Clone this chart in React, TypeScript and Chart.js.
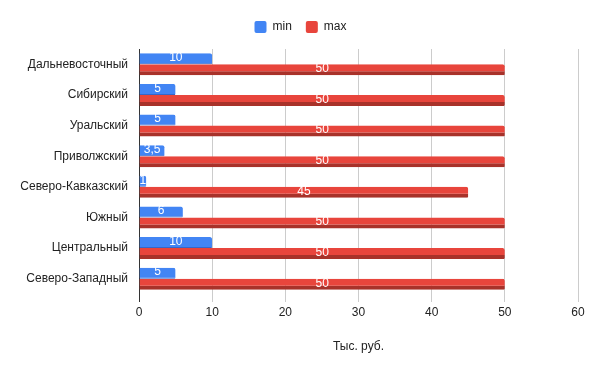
import React, { useEffect, useRef } from "react";
import { Chart, registerables } from "chart.js";

Chart.register(...registerables);

const categories = [
  "Дальневосточный",
  "Сибирский",
  "Уральский",
  "Приволжский",
  "Северо-Кавказский",
  "Южный",
  "Центральный",
  "Северо-Западный",
];
const minValues = [10, 5, 5, 3.5, 1, 6, 10, 5];
const maxValues = [50, 50, 50, 50, 45, 50, 50, 50];
const xTicks = [0, 10, 20, 30, 40, 50, 60];
const xTitle = "Тыс. руб.";

const FONT = "'Liberation Sans', Arial, sans-serif";

const valueLabels = {
  id: "valueLabels",
  afterDatasetsDraw(chart: any) {
    const ctx = chart.ctx;
    ctx.save();
    ctx.font = `12px ${FONT}`;
    ctx.fillStyle = "#ffffff";
    ctx.textAlign = "center";
    ctx.textBaseline = "middle";
    chart.data.datasets.forEach((ds: any, di: number) => {
      const meta = chart.getDatasetMeta(di);
      meta.data.forEach((el: any, i: number) => {
        const v = ds.data[i];
        const cx = (el.base + el.x) / 2;
        ctx.fillText(String(v).replace(".", ","), cx, el.y - 1);
      });
    });
    ctx.restore();
  },
};

const legendFix = {
  id: "legendFix",
  beforeUpdate(chart: any) {
    const lg = chart.legend;
    if (lg && !lg.__patched) {
      const f = lg.fit.bind(lg);
      lg.fit = function () {
        f();
        this.height += 6;
      };
      lg.__patched = true;
    }
  },
  afterLayout(chart: any) {
    const lg = chart.legend;
    if (lg) {
      lg.right = chart.width;
      lg.width = lg.right - lg.left;
    }
  },
};

export default function App() {
  const ref = useRef<HTMLCanvasElement>(null);
  useEffect(() => {
    if (!ref.current) return;
    const chart = new Chart(ref.current, {
      type: "bar",
      data: {
        labels: categories,
        datasets: [
          {
            label: "min",
            data: minValues,
            backgroundColor: "#4285F4",
            borderColor: "#3567c9",
            borderWidth: { top: 0, left: 0, right: 0, bottom: 1 },
            borderSkipped: "left",
            borderRadius: { topRight: 2, bottomRight: 1, topLeft: 0, bottomLeft: 0 },
          },
          {
            label: "max",
            data: maxValues,
            backgroundColor: "#E8453C",
            borderColor: "#a8322a",
            borderWidth: { top: 0, left: 0, right: 0, bottom: 4 },
            borderSkipped: "left",
            borderRadius: { topRight: 2, bottomRight: 1, topLeft: 0, bottomLeft: 0 },
          },
        ],
      },
      options: {
        indexAxis: "y",
        animation: false,
        responsive: true,
        maintainAspectRatio: false,
        datasets: {
          bar: { categoryPercentage: 0.72, barPercentage: 1 },
        },
        layout: { padding: { top: 7, right: 23, bottom: 13, left: 0 } },
        plugins: {
          tooltip: { enabled: false },
          legend: {
            position: "top",
            labels: {
              boxWidth: 12,
              boxHeight: 12,
              padding: 14,
              useBorderRadius: true,
              borderRadius: 2,
              color: "#222",
              font: { family: FONT, size: 12 },
              generateLabels(chart: any) {
                const items = Chart.defaults.plugins.legend.labels.generateLabels(chart);
                return items.map((it: any) => ({
                  ...it,
                  lineWidth: 0,
                  strokeStyle: "rgba(0,0,0,0)",
                }));
              },
            },
          },
        },
        scales: {
          x: {
            min: 0,
            max: 60,
            afterBuildTicks(scale: any) {
              scale.ticks = xTicks.map((v) => ({ value: v }));
            },
            afterFit(scale: any) {
              scale.height = 64;
            },
            grid: {
              color: (c: any) => (c.tick && c.tick.value === 0 ? "#333" : "#cccccc"),
              tickLength: 8,
              drawTicks: true,
            },
            border: { display: false },
            ticks: {
              color: "#222",
              padding: 3,
              font: { family: FONT, size: 12 },
            },
            title: {
              display: true,
              text: xTitle,
              color: "#222",
              font: { family: FONT, size: 12 },
              padding: { top: 4, bottom: 4 },
            },
          },
          y: {
            afterFit(scale: any) {
              scale.width = 139;
            },
            grid: { display: false },
            border: { display: false },
            ticks: {
              color: "#222",
              padding: 3,
              font: { family: FONT, size: 12 },
            },
          },
        },
      },
      plugins: [valueLabels, legendFix],
    } as any);
    return () => chart.destroy();
  }, []);
  return (
    <div style={{ position: "absolute", left: 0, top: 0, width: 601, height: 371 }}>
      <canvas ref={ref} />
    </div>
  );
}
